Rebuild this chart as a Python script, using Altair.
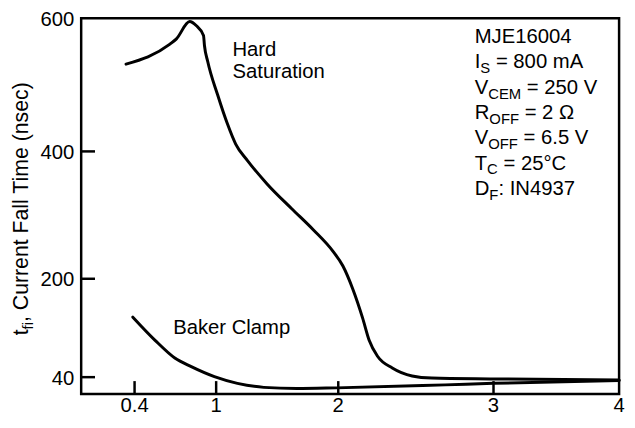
import altair as alt
import pandas as pd

FONT = "Liberation Sans"

# ---- data ----
x_ticks = [0.4, 1, 2, 3, 4]
y_ticks = [40, 200, 400, 600]
x_inner_ticks = [0.4, 1, 2, 3]
y_inner_ticks = [40, 200, 400]

hard_x = [0.336, 0.66, 0.708, 0.805, 0.853, 0.907, 0.914, 0.938, 1.012, 1.093, 1.160,
          1.255, 1.417, 1.619, 1.795, 1.957, 2.03, 2.094, 2.157, 2.199, 2.253, 2.348,
          2.476, 2.603, 3.0, 4.0]
hard_y = [531, 561, 569, 595, 589, 574, 559, 535, 485, 441, 411,
          386, 349, 310, 277, 243, 220, 183, 136, 100, 74, 55,
          42, 38.5, 37, 35]

baker_x = [0.387, 0.551, 0.696, 0.817, 0.987, 1.174, 1.39, 1.66, 1.984, 2.688, 3.0, 4.0]
baker_y = [137.6, 99.9, 71.1, 57, 40.8, 29.3, 22.4, 20.4, 21.5, 26.7, 29.3, 34]

# axis scale breakpoints (the original axis is not evenly spaced)
X_DOMAIN = [0, 0.4, 1, 2, 3, 4]
X_RANGE = [0, 54, 136.5, 260, 417, 544]
Y_DOMAIN = [11, 40, 200, 400, 600]
Y_RANGE = [380, 363, 263.5, 134.7, 0]

W, H = 544, 380
FS = 20.5

xs = alt.Scale(domain=X_DOMAIN, range=X_RANGE, zero=False, nice=False)
ys = alt.Scale(domain=Y_DOMAIN, range=Y_RANGE, zero=False, nice=False)

curves = pd.DataFrame({
    "x": hard_x + baker_x,
    "y": hard_y + baker_y,
    "series": ["Hard Saturation"] * len(hard_x) + ["Baker Clamp"] * len(baker_x),
})

lines = alt.Chart(curves).mark_line(
    color="black", strokeWidth=3, interpolate="monotone", strokeCap="round", strokeJoin="round"
).encode(
    x=alt.X("x:Q", scale=xs, axis=None),
    y=alt.Y("y:Q", scale=ys, axis=None),
    detail="series:N",
)

# inward tick marks
xt = pd.DataFrame({"xt": x_inner_ticks})
x_tick_marks = alt.Chart(xt).mark_rule(color="black", strokeWidth=2.5).encode(
    x=alt.X("xt:Q", scale=xs, axis=None), y=alt.value(H), y2=alt.value(H - 13))

yt = pd.DataFrame({"yt": y_inner_ticks})
y_tick_marks = alt.Chart(yt).mark_rule(color="black", strokeWidth=2.5).encode(
    y=alt.Y("yt:Q", scale=ys, axis=None), x=alt.value(0), x2=alt.value(14))

# tick labels, placed through the same scales
xl = pd.DataFrame({"xl": x_ticks})
x_labels = alt.Chart(xl).mark_text(
    fontSize=FS, font=FONT, color="black", align="center", baseline="alphabetic"
).encode(x=alt.X("xl:Q", scale=xs, axis=None), y=alt.value(H + 18.5),
         text=alt.Text("xl:Q", format="~g"))

yl = pd.DataFrame({"yl": y_ticks})
y_labels = alt.Chart(yl).mark_text(
    fontSize=FS, font=FONT, color="black", align="right", baseline="alphabetic", dy=7.5
).encode(y=alt.Y("yl:Q", scale=ys, axis=None), x=alt.value(-7),
         text=alt.Text("yl:Q", format="d"))


def txt(s, x, y, size=FS, angle=None):
    kw = dict(align="left", baseline="alphabetic", fontSize=size, color="black", font=FONT)
    if angle is not None:
        kw["angle"] = angle
    return alt.Chart(pd.DataFrame({"t": [s]})).mark_text(**kw).encode(
        x=alt.value(x), y=alt.value(y), text="t:N")


WID = {"I": 0.278, "V": 0.667, "R": 0.722, "T": 0.611, "D": 0.722, "S": 0.667,
       "C": 0.722, "E": 0.667, "M": 0.833, "O": 0.778, "F": 0.611,
       "f": 0.278, "i": 0.222, "t": 0.278, " ": 0.278}


def width(s, size):
    return sum(WID.get(c, 0.556) for c in s) * size


SUB, SUBDY = 15, 5
params = [("MJE16004", "", ""), ("I", "S", " = 800 mA"), ("V", "CEM", " = 250 V"),
          ("R", "OFF", " = 2 \u03a9"), ("V", "OFF", " = 6.5 V"), ("T", "C", " = 25\u00b0C"),
          ("D", "F", ": IN4937")]

layers = [lines, x_tick_marks, y_tick_marks, x_labels, y_labels]

x0, y0, dy = 398, 25, 25.6
for i, (a, b, c) in enumerate(params):
    yy = y0 + dy * i
    layers.append(txt(a, x0, yy))
    if b:
        xb = x0 + width(a, FS)
        layers.append(txt(b, xb, yy + SUBDY, SUB))
        xc = xb + width(b, SUB)
        lead = len(c) - len(c.lstrip(" "))
        xc += lead * WID[" "] * FS
        layers.append(txt(c.lstrip(" "), xc, yy))

layers.append(txt("Hard", 153, 38))
layers.append(txt("Saturation", 153, 60))
layers.append(txt("Baker Clamp", 93, 319))

# y-axis title with subscript, rotated
TS, TSS = 21.5, 15
tx, ty = -53.3, 320.7
layers.append(txt("t", tx, ty, TS, angle=270))
ty2 = ty - width("t", TS)
layers.append(txt("fi", tx + 5, ty2, TSS, angle=270))
ty3 = ty2 - width("fi", TSS)
layers.append(txt(", Current Fall Time (nsec)", tx, ty3, TS, angle=270))

chart = alt.layer(*layers).properties(
    width=W, height=H,
    autosize=alt.AutoSizeParams(type="none"),
    padding={"left": 74, "top": 8, "right": 8, "bottom": 24},
).configure(
    background="white",
    view=alt.ViewConfig(stroke="black", strokeWidth=2.5),
)

chart.save("out.html", embed_options={"renderer": "svg", "actions": False})
